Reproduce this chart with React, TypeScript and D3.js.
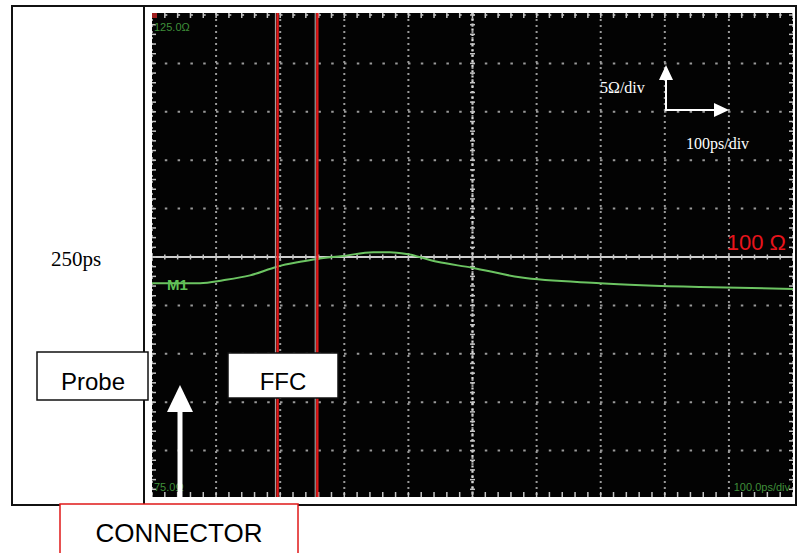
import * as d3 from "d3";

// TDR trace
const timePs = [0, 75, 111, 153, 195, 231, 257, 298, 345, 371, 398, 445, 499, 574, 699, 855, 1000];
const impedance = [97.3, 97.3, 97.6, 98.1, 99.0, 99.5, 99.8, 100.1, 100.5, 100.5, 100.3, 99.5, 98.9, 97.9, 97.3, 96.9, 96.7];
const cursorPs = [195, 257];
const topLabel = "125.0Ω";
const bottomLabel = "75.0Ω";
const timebaseLabel = "100.0ps/div";

const W = 798;
const H = 553;
const sx0 = 152, sx1 = 793, sy0 = 13, sy1 = 497;

const App = () => {
  const x = d3.scaleLinear().domain([0, 1000]).range([sx0, sx1]);
  const y = d3.scaleLinear().domain([75, 125]).range([499, 15]);

  const line = d3
    .line<number>()
    .x((d, i) => x(timePs[i]))
    .y((d) => y(d))
    .curve(d3.curveMonotoneX);

  const majorX = x.ticks(10);
  const majorY = y.ticks(10);
  const minorX = d3.range(0, 1000.01, 20);
  const minorY = d3.range(75, 125.01, 1);

  return (
    <svg width={W} height={H} style={{ position: "absolute", left: 0, top: 0, background: "#fff" }}>
      <defs>
        <clipPath id="scr">
          <rect x={sx0} y={sy0} width={sx1 - sx0} height={sy1 - sy0} />
        </clipPath>
      </defs>

      {/* frame */}
      <rect x={12} y={6} width={784} height={499} fill="#fff" stroke="#111" strokeWidth={2} />
      <line x1={144} x2={144} y1={6} y2={505} stroke="#111" strokeWidth={2} />

      {/* scope screen */}
      <rect x={sx0} y={sy0} width={sx1 - sx0} height={sy1 - sy0} fill="#030303" />
      <g clipPath="url(#scr)">
        {majorX.map((t) => (
          <line key={"vx" + t} x1={x(t)} x2={x(t)} y1={sy0} y2={sy1}
            stroke="#9a9a9a" strokeWidth={2} strokeDasharray="2 4" />
        ))}
        {majorY.map((v) => (
          <line key={"hy" + v} x1={sx0} x2={sx1} y1={y(v)} y2={y(v)}
            stroke="#9a9a9a" strokeWidth={2} strokeDasharray="2.5 10.3" />
        ))}
        {/* centre axes */}
        <line x1={sx0} x2={sx1} y1={y(100)} y2={y(100)} stroke="#cfcfcf" strokeWidth={1.8} />
        <line x1={x(500)} x2={x(500)} y1={sy0} y2={sy1} stroke="#d8d8d8" strokeWidth={2.2} strokeDasharray="2.2 3" />
        {minorX.map((t) => (
          <g key={"mx" + t} stroke="#c4c4c4" strokeWidth={1.5}>
            <line x1={x(t)} x2={x(t)} y1={sy0} y2={sy0 + 5} />
            <line x1={x(t)} x2={x(t)} y1={sy1 - 5} y2={sy1} />
            <line x1={x(t)} x2={x(t)} y1={y(100) - 2.5} y2={y(100) + 2.5} />
          </g>
        ))}
        {minorY.map((v) => (
          <g key={"my" + v} stroke="#c4c4c4" strokeWidth={1.5}>
            <line x1={sx0} x2={sx0 + 4} y1={y(v)} y2={y(v)} />
            <line x1={sx1 - 4} x2={sx1} y1={y(v)} y2={y(v)} />
            <line x1={x(500) - 2.5} x2={x(500) + 2.5} y1={y(v)} y2={y(v)} />
          </g>
        ))}
        <rect x={sx0} y={sy0} width={5} height={5} fill="#a02020" />

        {/* trace */}
        <path d={line(impedance) ?? ""} fill="none" stroke="#6cc462" strokeWidth={2} />

        {/* cursors */}
        {cursorPs.map((t) => (
          <g key={"c" + t}>
            <line x1={x(t) - 1.5} x2={x(t) - 1.5} y1={sy0} y2={sy1} stroke="#a0a0a0" strokeWidth={1.2} />
            <line x1={x(t) + 0.6} x2={x(t) + 0.6} y1={sy0} y2={sy1} stroke="#e01818" strokeWidth={2.4} />
          </g>
        ))}

        {/* scope labels */}
        <text x={sx0 + 2} y={31} fill="#3f8f3a" fontFamily="Liberation Sans, Arial" fontSize={11}>{topLabel}</text>
        <text x={sx0 + 2} y={491} fill="#3f8f3a" fontFamily="Liberation Sans, Arial" fontSize={11}>{bottomLabel}</text>
        <text x={sx1 - 3} y={491} fill="#3f8f3a" textAnchor="end" fontFamily="Liberation Sans, Arial" fontSize={11}>{timebaseLabel}</text>
        <text x={167} y={290} fill="#5fc055" fontFamily="Liberation Sans, Arial" fontWeight="bold" fontSize={15}>M1</text>

        {/* scale annotation */}
        <text x={600} y={93} fill="#fff" fontFamily="Liberation Serif, serif" fontSize={16}>5Ω/div</text>
        <text x={686} y={149} fill="#fff" fontFamily="Liberation Serif, serif" fontSize={16}>100ps/div</text>
        <line x1={666} x2={666} y1={111} y2={78} stroke="#fff" strokeWidth={2} />
        <polygon points="666,65 659,80 673,80" fill="#fff" />
        <line x1={665} x2={715} y1={110} y2={110} stroke="#fff" strokeWidth={2} />
        <polygon points="729,110 714,103 714,117" fill="#fff" />

        <text x={786} y={250} fill="#e8141c" textAnchor="end" fontFamily="Liberation Sans, Arial" fontSize={22}>100 Ω</text>
      </g>

      {/* left panel */}
      <text x={76} y={266} textAnchor="middle" fontFamily="Liberation Serif, serif" fontSize={21}>250ps</text>

      {/* boxes */}
      <rect x={37} y={352} width={111} height={48} fill="#fff" stroke="#111" strokeWidth={1.5} />
      <text x={93} y={390} textAnchor="middle" fontFamily="Liberation Sans, Arial" fontSize={24}>Probe</text>
      <rect x={228} y={353} width={110} height={45} fill="#fff" stroke="#111" strokeWidth={1.5} />
      <text x={283} y={390} textAnchor="middle" fontFamily="Liberation Sans, Arial" fontSize={24}>FFC</text>

      {/* connector arrow */}
      <line x1={180} x2={180} y1={506} y2={410} stroke="#fff" strokeWidth={5} />
      <polygon points="180,385 167,412 193,412" fill="#fff" />
      <rect x={60} y={504} width={238} height={60} fill="#fff" stroke="#e01818" strokeWidth={1.5} />
      <text x={179} y={542} textAnchor="middle" fontFamily="Liberation Sans, Arial" fontSize={26}>CONNECTOR</text>
    </svg>
  );
};

export default App;
